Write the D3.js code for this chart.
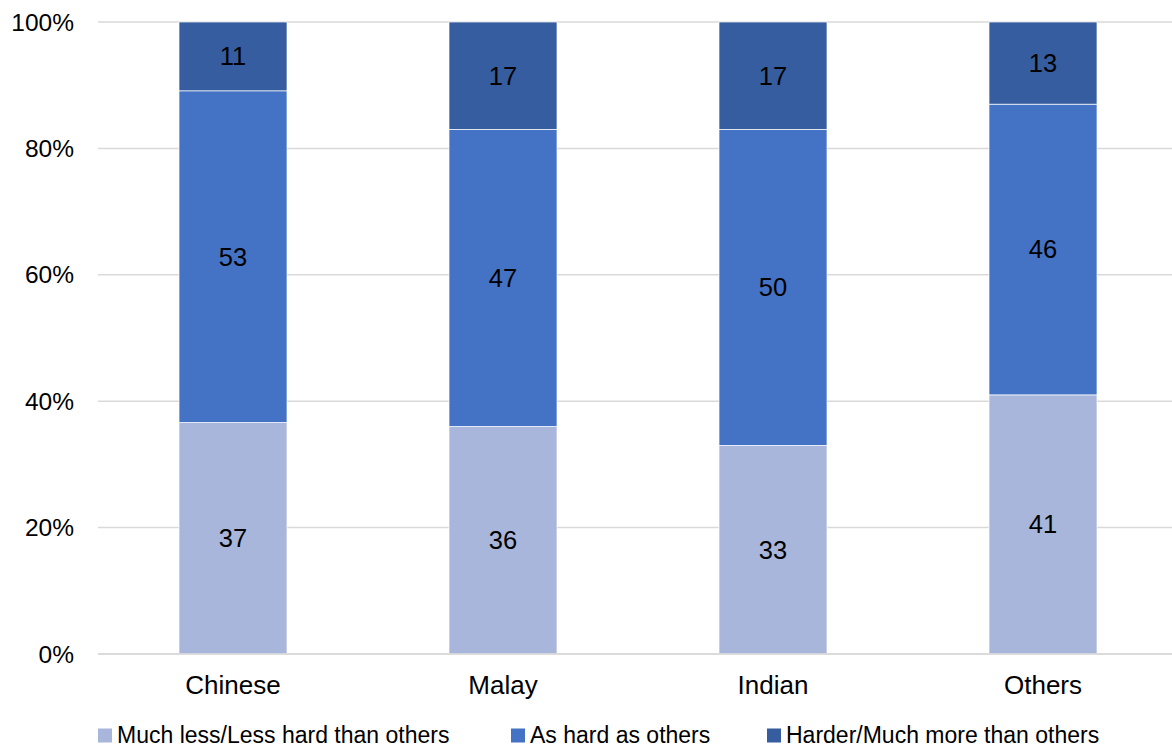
<!DOCTYPE html>
<html><head><meta charset="utf-8">
<script src="https://cdn.jsdelivr.net/npm/d3@7"></script>
<style>body{margin:0;background:#fff}svg{display:block;font-family:Arial,"Liberation Sans",sans-serif}</style>
</head><body><svg id="c" width="1172" height="749"></svg>
<script>
const categories = ["Chinese","Malay","Indian","Others"];
const seriesNames = ["Much less/Less hard than others","As hard as others","Harder/Much more than others"];
const lessHard = [37,36,33,41];
const asHard = [53,47,50,46];
const harder = [11,17,17,13];
const yTicks = [0,0.2,0.4,0.6,0.8,1.0];
const colors = ["#A9B6DB","#4472C4","#355D9F"];

const svg = d3.select("#c");
const W = 1172, H = 749;
const x = d3.scaleBand().domain(categories).range([98,1178]).paddingInner(0.6).paddingOuter(0.3);
const y = d3.scaleLinear().domain([0,1]).range([654,22]);

const rows = categories.map((c,i)=>({cat:c, s0:lessHard[i], s1:asHard[i], s2:harder[i]}));
const stack = d3.stack().keys(["s0","s1","s2"]).offset(d3.stackOffsetExpand);
const series = stack(rows);

// gridlines
svg.append("g").selectAll("line").data(yTicks).join("line")
  .attr("x1",98).attr("x2",W).attr("y1",d=>y(d)).attr("y2",d=>y(d))
  .attr("stroke","#D9D9D9").attr("stroke-width",1.5);

// y labels
svg.append("g").selectAll("text").data(yTicks).join("text")
  .attr("x",74).attr("y",d=>y(d)).attr("dy","0.35em").attr("text-anchor","end")
  .attr("font-size",24.5).attr("fill","#000").text(d3.format(".0%"));

// bars
const bw = 108;
series.forEach((s,si)=>{
  const g = svg.append("g");
  g.selectAll("rect").data(s).join("rect")
    .attr("x",d=>x(d.data.cat)+x.bandwidth()/2-bw/2).attr("width",bw)
    .attr("y",d=>y(d[1])).attr("height",d=>y(d[0])-y(d[1]))
    .attr("fill",colors[si]).attr("stroke","#fff").attr("stroke-width",0.7);
  g.selectAll("text").data(s).join("text")
    .attr("x",d=>x(d.data.cat)+x.bandwidth()/2).attr("y",d=>(y(d[0])+y(d[1]))/2)
    .attr("dy","0.35em").attr("text-anchor","middle").attr("font-size",25.5).attr("fill","#000")
    .text(d=>d.data["s"+si]);
});

// x axis
svg.append("line").attr("x1",98).attr("x2",W).attr("y1",y(0)).attr("y2",y(0))
  .attr("stroke","#D9D9D9").attr("stroke-width",1.5);
svg.append("g").selectAll("text").data(categories).join("text")
  .attr("x",d=>x(d)+x.bandwidth()/2).attr("y",685).attr("dy","0.35em").attr("text-anchor","middle")
  .attr("font-size",26).attr("fill","#000").text(d=>d);

// legend
const legX = [98,511,767];
const lg = svg.append("g").selectAll("g").data(seriesNames).join("g")
  .attr("transform",(d,i)=>`translate(${legX[i]},734.5)`);
lg.append("rect").attr("x",0).attr("y",-6).attr("width",14).attr("height",14).attr("fill",(d,i)=>colors[i]);
lg.append("text").attr("x",19).attr("y",0).attr("dy","0.35em").attr("font-size",23).attr("fill","#000").text(d=>d);
</script></body></html>
